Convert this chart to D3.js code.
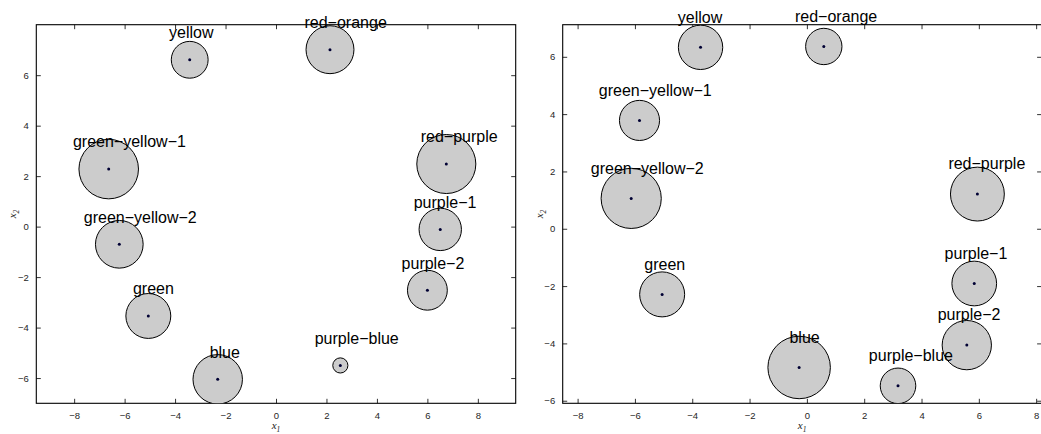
<!DOCTYPE html>
<html>
<head>
<meta charset="utf-8">
<script src="https://cdn.jsdelivr.net/npm/d3@7"></script>
<style>
  html, body { margin: 0; padding: 0; background: #fff; overflow: hidden; }
  svg { display: block; }
</style>
</head>
<body>
<svg id="chart" width="1041" height="434"></svg>
<script>
// ---- data ----
const names = ["yellow", "red\u2212orange", "green\u2212yellow\u22121", "red\u2212purple",
  "green\u2212yellow\u22122", "purple\u22121", "purple\u22122", "green", "blue", "purple\u2212blue"];

// left panel
const leftX = [-3.42, 2.14, -6.63, 6.75, -6.21, 6.51, 6.00, -5.06, -2.31, 2.55];
const leftY = [6.61, 7.01, 2.28, 2.48, -0.70, -0.11, -2.52, -3.54, -6.05, -5.50];
const leftR = [0.73, 0.95, 1.18, 1.17, 0.945, 0.84, 0.79, 0.89, 0.98, 0.30];
const leftLabelX = [-3.36, 2.76, -5.81, 7.26, -5.38, 6.70, 6.22, -4.86, -2.03, 3.20];

// right panel
const rightX = [-3.71, 0.59, -5.84, 5.95, -6.13, 5.84, 5.58, -5.05, -0.27, 3.18];
const rightY = [6.33, 6.36, 3.78, 1.21, 1.06, -1.91, -4.06, -2.29, -4.84, -5.48];
const rightR = [0.774, 0.634, 0.70, 0.94, 1.05, 0.78, 0.86, 0.785, 1.09, 0.62];
const rightLabelX = [-3.73, 1.02, -5.29, 6.28, -5.57, 5.90, 5.66, -4.96, -0.08, 3.63];

// axis limits and ticks
const leftXDomain = [-9.5, 9.5];
const leftYDomain = [-7, 8];
const rightXDomain = [-8.52, 8.19];
const rightYDomain = [-6.09, 7.12];
const xTicks = [-8, -6, -4, -2, 0, 2, 4, 6, 8];
const yTicks = [-6, -4, -2, 0, 2, 4, 6];
const labelOffset = 0.86;

// ---- drawing ----
const svg = d3.select("#chart");

const panels = [
  { frame: { x0: 36.3, x1: 515.7, y0: 24.7, y1: 403.3 }, xd: leftXDomain, yd: leftYDomain,
    xs: leftX, ys: leftY, rs: leftR, lx: leftLabelX },
  { frame: { x0: 562.7, x1: 1041.6, y0: 24.7, y1: 403.3 }, xd: rightXDomain, yd: rightYDomain,
    xs: rightX, ys: rightY, rs: rightR, lx: rightLabelX }
];

panels.forEach(p => {
  const f = p.frame;
  const x = d3.scaleLinear().domain(p.xd).range([f.x0, f.x1]);
  const y = d3.scaleLinear().domain(p.yd).range([f.y1, f.y0]);
  const g = svg.append("g");
  const tickLen = 4.5;

  const xAxis = d3.axisBottom(x).tickValues(xTicks).tickSize(-tickLen).tickPadding(8.5);
  const gx = g.append("g").attr("transform", `translate(0,${f.y1})`).call(xAxis);
  const xAxisTop = d3.axisTop(x).tickValues(xTicks).tickSize(-tickLen).tickFormat("");
  const gxt = g.append("g").attr("transform", `translate(0,${f.y0})`).call(xAxisTop);
  const yAxis = d3.axisLeft(y).tickValues(yTicks).tickSize(-tickLen).tickPadding(7.5);
  const gy = g.append("g").attr("transform", `translate(${f.x0},0)`).call(yAxis);
  const yAxisR = d3.axisRight(y).tickValues(yTicks).tickSize(-tickLen).tickFormat("");
  const gyr = g.append("g").attr("transform", `translate(${f.x1},0)`).call(yAxisR);

  [gx, gxt, gy, gyr].forEach(a => {
    a.select(".domain").remove();
    a.selectAll(".tick line").attr("stroke", "#333").attr("stroke-width", 1);
    a.selectAll(".tick text").attr("font-family", "Liberation Sans, Arial, sans-serif")
      .attr("font-size", 9.5).attr("fill", "#262626");
  });

  // frame
  g.append("rect").attr("x", f.x0).attr("y", f.y0)
    .attr("width", f.x1 - f.x0).attr("height", f.y1 - f.y0)
    .attr("fill", "none").attr("stroke", "#000").attr("stroke-width", 1.1);

  // circles
  const idx = d3.range(names.length);
  const clipId = "clip" + Math.round(f.x0);
  svg.append("clipPath").attr("id", clipId).append("rect")
    .attr("x", f.x0).attr("y", f.y0).attr("width", f.x1 - f.x0).attr("height", f.y1 - f.y0);
  const cg = g.append("g").attr("clip-path", `url(#${clipId})`);
  cg.selectAll("circle.big").data(idx).join("circle").attr("class", "big")
    .attr("cx", i => x(p.xs[i])).attr("cy", i => y(p.ys[i]))
    .attr("r", i => x(p.rs[i]) - x(0))
    .attr("fill", "#cccccc").attr("stroke", "#000").attr("stroke-width", 1);
  cg.selectAll("circle.dot").data(idx).join("circle").attr("class", "dot")
    .attr("cx", i => x(p.xs[i])).attr("cy", i => y(p.ys[i]))
    .attr("r", 1.5).attr("fill", "#000033");

  // labels
  g.selectAll("text.lbl").data(idx).join("text").attr("class", "lbl")
    .attr("x", i => x(p.lx[i])).attr("y", i => y(p.ys[i] + labelOffset))
    .attr("text-anchor", "middle")
    .attr("font-family", "Liberation Sans, Arial, sans-serif").attr("font-size", 16)
    .attr("fill", "#000")
    .text(i => names[i]);

  // axis titles
  const cx = (f.x0 + f.x1) / 2;
  const xt = g.append("text").attr("x", cx).attr("y", 428.5).attr("text-anchor", "middle")
    .attr("font-family", "Liberation Serif, Times New Roman, serif").attr("font-style", "italic")
    .attr("font-size", 11).attr("fill", "#222");
  xt.append("tspan").text("x");
  xt.append("tspan").attr("font-size", 7.5).attr("dy", 3).text("1");

  const cy = (f.y0 + f.y1) / 2;
  const yt = g.append("text").attr("transform", `translate(${f.x0 - 20},${cy}) rotate(-90)`)
    .attr("text-anchor", "middle")
    .attr("font-family", "Liberation Serif, Times New Roman, serif").attr("font-style", "italic")
    .attr("font-size", 11).attr("fill", "#222");
  yt.append("tspan").text("x");
  yt.append("tspan").attr("font-size", 7.5).attr("dy", 3).text("2");
});
</script>
</body>
</html>
